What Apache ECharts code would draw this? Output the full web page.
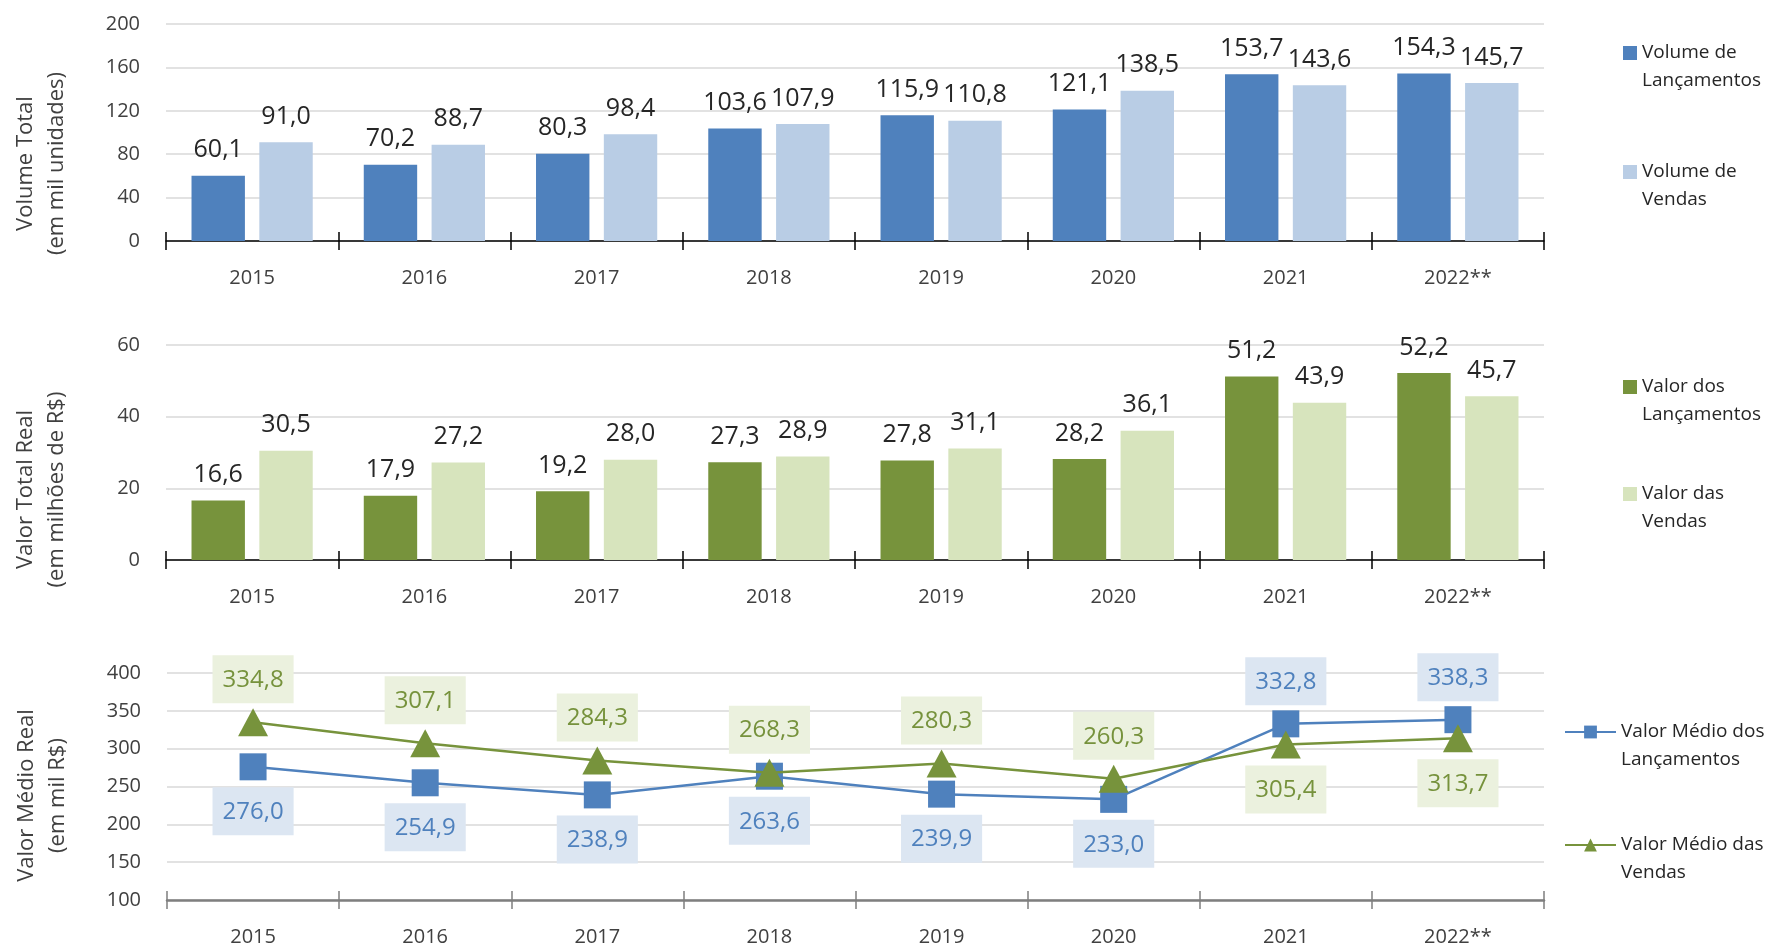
<!DOCTYPE html>
<html lang="pt">
<head>
    <meta charset="UTF-8">
    <title>Lançamentos e Vendas</title>
    <script src="https://cdn.jsdelivr.net/npm/echarts@6/dist/echarts.min.js"></script>
    <style>
        html, body { margin: 0; height: 100%; background: #fff; }
        #main { width: 1771px; height: 947px; }
    </style>
</head>
<body>
<div id="main"></div>
<script>
    // dados
    var anos = ['2015', '2016', '2017', '2018', '2019', '2020', '2021', '2022**'];
    var volLancamentos = [60.1, 70.2, 80.3, 103.6, 115.9, 121.1, 153.7, 154.3];
    var volVendas = [91.0, 88.7, 98.4, 107.9, 110.8, 138.5, 143.6, 145.7];
    var valLancamentos = [16.6, 17.9, 19.2, 27.3, 27.8, 28.2, 51.2, 52.2];
    var valVendas = [30.5, 27.2, 28.0, 28.9, 31.1, 36.1, 43.9, 45.7];
    var medioLancamentos = [276.0, 254.9, 238.9, 263.6, 239.9, 233.0, 332.8, 338.3];
    var medioVendas = [334.8, 307.1, 284.3, 268.3, 280.3, 260.3, 305.4, 313.7];

    var FONT = '"Open Sans", "Noto Sans", sans-serif';
    var AZUL = '#4f81bd', AZUL_CLARO = '#b9cde5';
    var VERDE = '#77933c', VERDE_CLARO = '#d7e4bd';

    var grids = [
        { left: 166, width: 1378, top: 24, height: 217 },
        { left: 166, width: 1378, top: 345, height: 215 },
        { left: 167, width: 1377, top: 673, height: 227 }
    ];

    function fmt(v) { return v.toFixed(1).replace('.', ','); }

    // eixo x principal + eixo "fantasma" só para os ticks cruzados
    function eixosX(i, corLinha, largura) {
        return [{
            type: 'category', gridIndex: i, data: anos,
            axisLine: { lineStyle: { color: corLinha, width: largura } },
            axisTick: { show: true, length: 9, lineStyle: { color: corLinha, width: 1.5 } },
            axisLabel: { fontFamily: FONT, fontSize: 20, color: '#404040', margin: 27 }
        }, {
            type: 'category', gridIndex: i, data: anos, position: 'top',
            offset: -grids[i].height,
            axisLine: { show: false },
            axisTick: { show: true, length: 9, lineStyle: { color: corLinha, width: 1.5 } },
            axisLabel: { show: false }
        }];
    }

    // desloc: empurra o título para baixo (padding à direita no texto girado)
    function eixoY(i, min, max, intervalo, nome, desloc) {
        return {
            type: 'value', gridIndex: i, min: min, max: max, interval: intervalo,
            name: nome, nameLocation: 'middle', nameRotate: 90, nameGap: 94,
            nameMoveOverlap: false,
            nameTextStyle: {
                fontFamily: FONT, fontSize: 22, color: '#404040', lineHeight: 31,
                padding: [0, desloc * 2, 0, 0]
            },
            axisLine: { show: false }, axisTick: { show: false },
            axisLabel: { fontFamily: FONT, fontSize: 20, color: '#404040', margin: 26 },
            splitLine: { lineStyle: { color: '#d9d9d9', width: 1.5 } }
        };
    }

    function barras(nome, dados, cor, i) {
        return {
            name: nome, type: 'bar', data: dados,
            xAxisIndex: i * 2, yAxisIndex: i,
            barWidth: '31%', barGap: '27%',
            itemStyle: { color: cor },
            label: {
                show: true, position: 'top', distance: 13,
                fontFamily: FONT, fontSize: 25, color: '#262626',
                formatter: function (p) { return fmt(p.value); }
            }
        };
    }

    // rótulo da linha acima se o valor for maior que o da outra série
    function pontos(dados, outra, cor, fundo) {
        return dados.map(function (v, k) {
            var acima = v > outra[k];
            return {
                value: v,
                label: {
                    position: acima ? 'top' : 'bottom',
                    distance: acima ? 5 : 7,
                    color: cor, backgroundColor: fundo
                }
            };
        });
    }

    // linha vazia antes do nome para o ícone ficar alinhado à primeira linha
    function legenda(nomes, esq, topo, gap, larg, alt) {
        return {
            orient: 'vertical', left: esq, top: topo, itemGap: gap,
            itemWidth: larg, itemHeight: alt,
            data: nomes,
            formatter: function (n) { return '\n' + n; },
            textStyle: { fontFamily: FONT, fontSize: 19, color: '#262626', lineHeight: 28 }
        };
    }

    var chart = echarts.init(document.getElementById('main'));

    var option = {
        animation: false,
        backgroundColor: '#fff',
        grid: grids,
        legend: [
            Object.assign(legenda(['Volume de\nLançamentos', 'Volume de\nVendas'], 1618, 6, 35, 14, 14), { icon: 'rect' }),
            Object.assign(legenda(['Valor dos\nLançamentos', 'Valor das\nVendas'], 1618, 340, 23, 14, 14), { icon: 'rect' }),
            legenda(['Valor Médio dos\nLançamentos', 'Valor Médio das\nVendas'], 1559, 685, 29, 51, 16)
        ],
        xAxis: eixosX(0, '#000', 1.5).concat(eixosX(1, '#000', 1.5), eixosX(2, '#7f7f7f', 2.5)),
        yAxis: [
            eixoY(0, 0, 200, 40, 'Volume Total\n(em mil unidades)', 31),
            eixoY(1, 0, 60, 20, 'Valor Total Real\n(em milhões de R$)', 37),
            eixoY(2, 100, 400, 50, 'Valor Médio Real\n(em mil R$)', 9)
        ],
        series: [
            barras('Volume de\nLançamentos', volLancamentos, AZUL, 0),
            barras('Volume de\nVendas', volVendas, AZUL_CLARO, 0),
            barras('Valor dos\nLançamentos', valLancamentos, VERDE, 1),
            barras('Valor das\nVendas', valVendas, VERDE_CLARO, 1),
            {
                name: 'Valor Médio dos\nLançamentos', type: 'line',
                xAxisIndex: 4, yAxisIndex: 2,
                data: pontos(medioLancamentos, medioVendas, '#4f81bd', '#dce6f2'),
                symbol: 'rect', symbolSize: 27, z: 3,
                itemStyle: { color: AZUL },
                lineStyle: { color: AZUL, width: 2.5 },
                label: {
                    show: true, fontFamily: FONT, fontSize: 24, padding: [13, 10, 11, 10],
                    formatter: function (p) { return fmt(p.value); }
                }
            },
            {
                name: 'Valor Médio das\nVendas', type: 'line',
                xAxisIndex: 4, yAxisIndex: 2,
                data: pontos(medioVendas, medioLancamentos, '#76923c', '#ebf1de'),
                symbol: 'triangle', symbolSize: [30, 28], z: 4,
                itemStyle: { color: VERDE },
                lineStyle: { color: VERDE, width: 2.5 },
                label: {
                    show: true, fontFamily: FONT, fontSize: 24, padding: [13, 10, 11, 10],
                    formatter: function (p) { return fmt(p.value); }
                }
            }
        ]
    };

    chart.setOption(option);
</script>
</body>
</html>
